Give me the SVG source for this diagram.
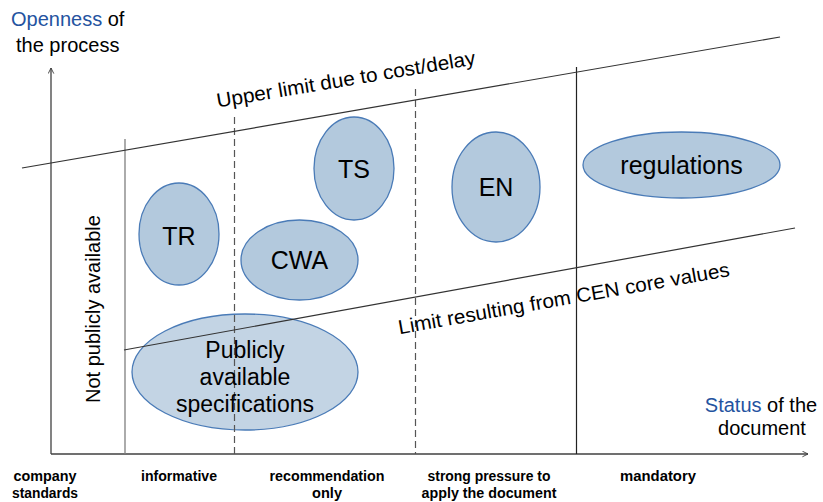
<svg xmlns="http://www.w3.org/2000/svg" width="823" height="502" viewBox="0 0 823 502">
<style>
text{font-family:"Liberation Sans",Arial,sans-serif;fill:#000}
.blue{fill:#2453a0}
.node ellipse{fill:#b3c9dd;stroke:#4a7bb7;stroke-width:1.3}
.node text{font-size:25px;text-anchor:middle}
.pas ellipse{fill:#c3d4e4;stroke:#4a7bb7;stroke-width:1.3}
.lbl{font-size:20px}
.bot{font-size:14px;text-anchor:middle;font-weight:bold}
.axis{stroke:#404040;stroke-width:1.3;fill:none}
.lim{stroke:#333;stroke-width:1.2;fill:none}
.dash{stroke:#555;stroke-width:1.2;stroke-dasharray:7,4;fill:none}
</style>
<defs>
<marker id="arr" viewBox="0 0 10 10" refX="9" refY="5" markerWidth="7" markerHeight="7" orient="auto" markerUnits="userSpaceOnUse">
<path d="M1,1 L9,5 L1,9" fill="none" stroke="#404040" stroke-width="1.3"/>
</marker>
</defs>
<rect width="823" height="502" fill="#fff"/>

<g id="pas" class="node pas">
<ellipse cx="245" cy="372" rx="113" ry="58"/>
</g>

<g id="connectors">
<line class="axis" x1="51" y1="454" x2="51" y2="68" marker-end="url(#arr)"/>
<line class="axis" x1="51" y1="454" x2="808" y2="454" marker-end="url(#arr)"/>
<line x1="125" y1="139" x2="125" y2="454" stroke="#7f7f7f" stroke-width="1.3"/>
<line class="dash" x1="234.5" y1="117" x2="234.5" y2="454"/>
<line class="dash" x1="415.5" y1="89" x2="415.5" y2="454"/>
<line x1="576.5" y1="67" x2="576.5" y2="454" stroke="#222" stroke-width="1.2"/>
<line class="lim" x1="22" y1="168" x2="780" y2="37"/>
<line class="lim" x1="124" y1="350" x2="795" y2="228"/>
</g>

<g id="pas-text" class="node">
<text x="245" y="358" style="font-size:23px">Publicly</text>
<text x="245" y="385" style="font-size:23px">available</text>
<text x="245" y="412" style="font-size:23px">specifications</text>
</g>

<g id="tr" class="node">
<ellipse cx="179" cy="234" rx="40" ry="51"/>
<text x="179" y="245">TR</text>
</g>
<g id="cwa" class="node">
<ellipse cx="299.5" cy="260" rx="58.5" ry="40"/>
<text x="299.5" y="269">CWA</text>
</g>
<g id="ts" class="node">
<ellipse cx="354" cy="168.5" rx="40" ry="51.5"/>
<text x="354" y="178">TS</text>
</g>
<g id="en" class="node">
<ellipse cx="496" cy="187" rx="44" ry="55"/>
<text x="496" y="196">EN</text>
</g>
<g id="regulations" class="node">
<ellipse cx="681.5" cy="165" rx="98.5" ry="33"/>
<text x="681.5" y="174">regulations</text>
</g>

<g id="labels">
<text class="lbl" x="11" y="26"><tspan class="blue">Openness</tspan> of</text>
<text class="lbl" x="16" y="52">the process</text>
<text class="lbl" x="761" y="412" text-anchor="middle"><tspan class="blue">Status</tspan> of the</text>
<text class="lbl" x="762" y="435" text-anchor="middle">document</text>
<text class="lbl" x="347" y="86" text-anchor="middle" textLength="262" lengthAdjust="spacingAndGlyphs" transform="rotate(-9.5 347 86)">Upper limit due to cost/delay</text>
<text class="lbl" x="565" y="305" text-anchor="middle" textLength="336" lengthAdjust="spacingAndGlyphs" transform="rotate(-10 565 305)">Limit resulting from CEN core values</text>
<text class="lbl" x="100" y="309" text-anchor="middle" transform="rotate(-90 100 309)">Not publicly available</text>
<text class="bot" x="45" y="481" textLength="63" lengthAdjust="spacingAndGlyphs">company</text>
<text class="bot" x="45" y="498" textLength="66" lengthAdjust="spacingAndGlyphs">standards</text>
<text class="bot" x="179" y="481" textLength="76" lengthAdjust="spacingAndGlyphs">informative</text>
<text class="bot" x="327" y="481" textLength="115" lengthAdjust="spacingAndGlyphs">recommendation</text>
<text class="bot" x="327" y="498" textLength="30" lengthAdjust="spacingAndGlyphs">only</text>
<text class="bot" x="489" y="481" textLength="123" lengthAdjust="spacingAndGlyphs">strong pressure to</text>
<text class="bot" x="489" y="498" textLength="135" lengthAdjust="spacingAndGlyphs">apply the document</text>
<text class="bot" x="658" y="481" textLength="76" lengthAdjust="spacingAndGlyphs">mandatory</text>
</g>
</svg>
